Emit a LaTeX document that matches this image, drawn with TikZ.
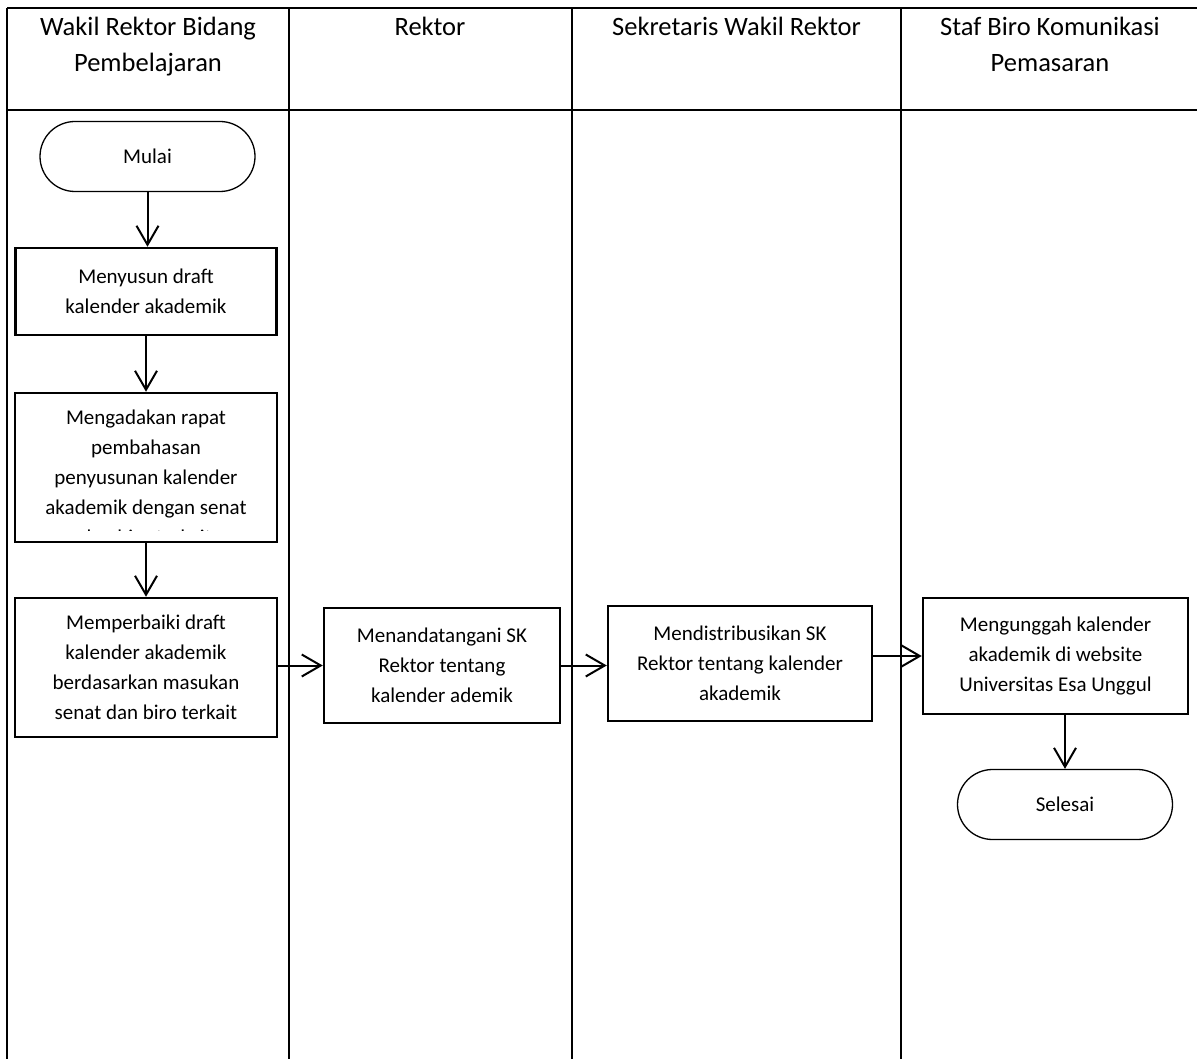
\documentclass[tikz,border=0pt]{standalone}
\usepackage{fontspec}
\setmainfont{Carlito}
\usetikzlibrary{positioning,arrows.meta,shapes.misc}

\begin{document}
\begin{tikzpicture}[x=1pt,y=-1pt,
  lane/.style={line width=2.5pt},
  title/.style={anchor=north,inner sep=0pt,align=center,font=\fontsize{26.5}{36.5}\selectfont},
  box/.style={draw,line width=2.5pt,align=center,inner sep=0pt,font=\fontsize{21}{30}\selectfont},
  term/.style={draw,line width=1.3pt,rounded rectangle,inner sep=0pt,minimum width=215pt,minimum height=70pt,font=\fontsize{21}{30}\selectfont},
  flow/.style={line width=2pt,-{Straight Barb[length=19pt,width=22pt]}}]
\useasboundingbox (0,0) rectangle (1197,1059);
\draw[lane] (7,8) -- (1197,8) (7,110) -- (1197,110);
\foreach \x in {7,289,572,901}
  \draw[lane] (\x,8) -- (\x,1059);
\node[title] (wr) at (148,16.5) {Wakil Rektor Bidang\\Pembelajaran};
\node[title] (rektor) at (430,16.5) {Rektor};
\node[title] (sekwr) at (736.5,16.5) {Sekretaris Wakil Rektor};
\node[title] (staf) at (1050,16.5) {Staf Biro Komunikasi\\Pemasaran};
\node[term] (mulai) at (147.5,156.5) {Mulai};
\node[box,minimum width=261pt,minimum height=87pt] (susun) at (146,291.5) {Menyusun draft\\kalender akademik};
\node[box,minimum width=262pt,minimum height=149pt] (rapat) at (146,467.5) {};
\begin{scope}
\clip (rapat.north west) rectangle ([yshift=13pt]rapat.south east);
\node[anchor=north,inner sep=0pt,align=center,font=\fontsize{21}{30}\selectfont] (rapattext) at ([yshift=-17.5pt]rapat.north)
  {Mengadakan rapat\\pembahasan\\penyusunan kalender\\akademik dengan senat\\dan biro terkait};
\end{scope}
\node[box,minimum width=262pt,minimum height=139pt] (perbaiki) at (146,667.5) {Memperbaiki draft\\kalender akademik\\berdasarkan masukan\\senat dan biro terkait};
\node[box,minimum width=236pt,minimum height=115pt] (ttd) at (442,665.5) {Menandatangani SK\\Rektor tentang\\kalender ademik};
\node[box,minimum width=264pt,minimum height=115pt] (distribusi) at (740,663.5) {Mendistribusikan SK\\Rektor tentang kalender\\akademik};
\node[box,minimum width=265pt,minimum height=116pt] (unggah) at (1055.5,656) {Mengunggah kalender\\akademik di website\\Universitas Esa Unggul};
\node[term] (selesai) at (1065,804.5) {Selesai};
\draw[flow] (mulai.south) -- (mulai.south |- susun.north);
\draw[flow] (susun.south) -- (susun.south |- rapat.north);
\draw[flow] (rapat.south) -- (rapat.south |- perbaiki.north);
\draw[flow] (perbaiki.east |- ttd.west) -- (ttd.west);
\draw[flow] (ttd.east) -- (ttd.east -| distribusi.west);
\draw[flow] (distribusi.east |- unggah.west) -- (unggah.west);
\draw[flow] (selesai.north |- unggah.south) -- (selesai.north);
\end{tikzpicture}
\end{document}
